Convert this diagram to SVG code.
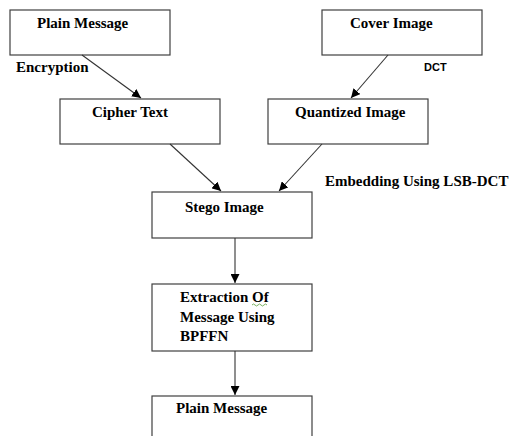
<svg xmlns="http://www.w3.org/2000/svg" width="512" height="436" viewBox="0 0 512 436">
<style>
.box{fill:#fff;stroke:#404040;stroke-width:1.2}
.t{font-family:"Liberation Serif","Times New Roman",serif;font-weight:bold;font-size:15px;fill:#000}
.s{font-family:"Liberation Sans",Arial,sans-serif;font-weight:bold;font-size:11px;fill:#000}
.c{stroke:#333;stroke-width:1.1;fill:none;marker-end:url(#ah)}
</style>
<defs>
<marker id="ah" viewBox="0 0 10 10" refX="10" refY="5" markerWidth="9" markerHeight="9" markerUnits="userSpaceOnUse" orient="auto">
<path d="M0,0 L10,5 L0,10 z" fill="#000"/>
</marker>
</defs>
<rect width="512" height="436" fill="#fff"/>
<g id="plain1"><rect class="box" x="10" y="10" width="160" height="45"/><text class="t" x="37" y="28">Plain Message</text></g>
<g id="cover"><rect class="box" x="322" y="10" width="160" height="45"/><text class="t" x="350" y="28">Cover Image</text></g>
<g id="cipher"><rect class="box" x="60" y="99" width="160" height="45"/><text class="t" x="92" y="117">Cipher Text</text></g>
<g id="quant"><rect class="box" x="268" y="99" width="160" height="45"/><text class="t" x="295" y="117">Quantized Image</text></g>
<g id="stego"><rect class="box" x="152" y="192" width="160" height="46"/><text class="t" x="185" y="212">Stego Image</text></g>
<g id="extract"><rect class="box" x="152" y="284" width="160" height="67"/>
<text class="t" x="180" y="302">Extraction Of</text>
<text class="t" x="180" y="322">Message Using</text>
<text class="t" x="180" y="341">BPFFN</text>
<path d="M252,305 q1.5,-2 3,0 t3,0 t3,0 t3,0 t3,0" fill="none" stroke="#5a9e3a" stroke-width="0.8"/>
</g>
<g id="plain2"><rect class="box" x="152" y="396" width="160" height="60"/><text class="t" x="176" y="413">Plain Message</text></g>
<g id="connectors">
<line class="c" x1="82" y1="55" x2="141" y2="98"/>
<line class="c" x1="388" y1="55" x2="351" y2="98"/>
<line class="c" x1="170" y1="144" x2="221" y2="191"/>
<line class="c" x1="322" y1="144" x2="279" y2="191"/>
<line class="c" x1="235" y1="238" x2="235" y2="283"/>
<line class="c" x1="235" y1="351" x2="235" y2="395"/>
</g>
<g id="labels">
<text class="t" x="16" y="72">Encryption</text>
<text class="s" x="424" y="71">DCT</text>
<text class="t" x="325" y="186">Embedding Using LSB-DCT</text>
</g>
</svg>
